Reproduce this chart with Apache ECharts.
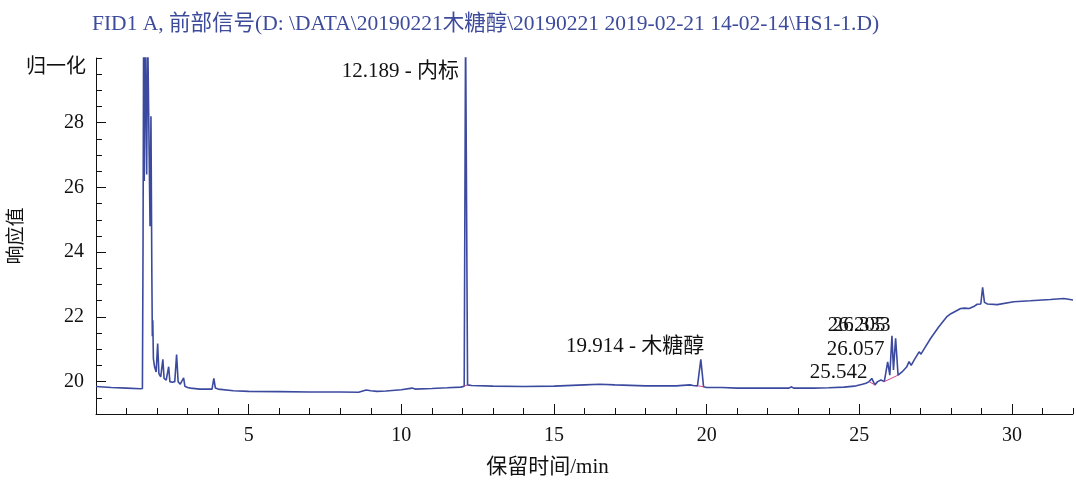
<!DOCTYPE html>
<html><head><meta charset="utf-8">
<script src="https://cdn.jsdelivr.net/npm/echarts@6/dist/echarts.min.js"></script>
<style>html,body{margin:0;padding:0;background:#fff}#c{width:1076px;height:484px}</style>
</head><body><div id="c"></div>
<script>
const titleText = 'FID1 A, 前部信号(D: \\DATA\\20190221木糖醇\\20190221 2019-02-21 14-02-14\\HS1-1.D)';
const xName = '保留时间/min';
const yName = '响应值';
const yUnit = '归一化';
const xTickLabels = [5, 10, 15, 20, 25, 30];
const yTickLabels = [20, 22, 24, 26, 28];

// retention time (min) and normalised response
const times = [
  0, 0.5, 1.0, 1.45, 1.52, 1.54, 1.56, 1.58, 1.61, 1.64, 1.66, 1.69, 1.72, 1.745, 1.77, 1.80, 1.83, 1.845, 1.86, 1.88,
  1.92, 1.97, 2.02, 2.06, 2.12, 2.19, 2.23, 2.30, 2.38, 2.42, 2.50, 2.58, 2.64, 2.69, 2.76, 2.82, 2.87, 2.91, 3.0, 3.1,
  3.4, 3.8, 3.86, 3.91, 3.96, 4.0, 4.5, 5.0, 6.0, 7.0, 8.0, 8.6, 8.85, 9.0, 9.2, 9.5, 10.0, 10.35, 10.45, 11.0,
  11.5, 11.95, 12.06, 12.105, 12.125, 12.17, 12.3, 13.0, 14.0, 15.0, 16.0, 16.5, 17.0, 18.0, 19.0, 19.45, 19.5, 19.56, 19.7, 19.81,
  19.9, 20.0, 20.5, 21.0, 22.0, 22.7, 22.77, 22.85, 23.5, 24.0, 24.5, 24.84, 25.1, 25.22, 25.32, 25.41, 25.51, 25.6, 25.71, 25.82,
  25.93, 26.0, 26.07, 26.12, 26.19, 26.27, 26.4, 26.55, 26.63, 26.7, 26.8, 26.96, 27.02, 27.15, 27.34, 27.6, 27.86, 28.0, 28.2, 28.32,
  28.45, 28.6, 28.75, 28.86, 28.98, 29.04, 29.1, 29.2, 29.52, 30.06, 30.6, 31.26, 31.7, 32.0
];
const signal = [
  19.85, 19.82, 19.80, 19.78, 19.79, 24.0, 31, 26.2, 31, 31, 26.4, 31, 31, 31, 24.8, 28.2, 23.2, 21.4, 21.9, 20.7,
  20.45, 20.3, 21.18, 20.25, 20.15, 20.69, 20.1, 20.05, 20.46, 20.0, 19.98, 20.0, 20.84, 20.0, 19.92, 19.9, 20.12, 19.86, 19.82, 19.80,
  19.77, 19.77, 20.1, 19.8, 19.86, 19.77, 19.72, 19.70, 19.69, 19.68, 19.68, 19.67, 19.74, 19.72, 19.70, 19.71, 19.75, 19.80, 19.77, 19.79,
  19.81, 19.83, 19.86, 31, 31, 19.9, 19.88, 19.86, 19.85, 19.86, 19.90, 19.92, 19.90, 19.87, 19.87, 19.90, 19.95, 19.88, 19.87, 20.69,
  19.84, 19.82, 19.82, 19.80, 19.80, 19.80, 19.84, 19.80, 19.80, 19.81, 19.83, 19.86, 19.92, 19.95, 20.0, 20.1, 19.9, 20.0, 20.05, 20.0,
  20.61, 20.2, 21.42, 20.36, 21.34, 20.2, 20.3, 20.45, 20.62, 20.5, 20.67, 20.92, 20.85, 21.05, 21.34, 21.69, 22.0, 22.1, 22.2, 22.26,
  22.27, 22.26, 22.32, 22.39, 22.4, 22.91, 22.45, 22.4, 22.38, 22.47, 22.5, 22.54, 22.57, 22.52
];

// integration baselines (start/end time and response)
const baseStartT = [12.06, 19.72, 25.32, 25.82];
const baseStartV = [19.86, 19.87, 20.0, 20.0];
const baseEndT = [12.17, 19.90, 25.51, 26.27];
const baseEndV = [19.90, 19.84, 19.9, 20.2];

// peak annotations: text, anchor time, anchor response
const peakLabels = ['12.189 - 内标', '19.914 - 木糖醇', '25.542', '26.057', '26.205', '26.333'];
const peakLabelTimes = [11.89, 19.92, 25.27, 25.83, 25.86, 26.02];
const peakLabelValues = [29.57, 21.1, 20.27, 21.0, 21.75, 21.72];

const serif = "'Liberation Serif', 'Noto Sans CJK SC', serif";
const ink = '#111111';
const trace = '#3b4a9e';

const baseData = [];
baseStartT.forEach((t, i) => {
  baseData.push([t, baseStartV[i]], [baseEndT[i], baseEndV[i]], [null, null]);
});

const chart = echarts.init(document.getElementById('c'), null, {renderer: 'canvas'});
chart.setOption({
  animation: false,
  backgroundColor: '#fff',
  title: {
    text: titleText, left: 87, top: 9,
    textStyle: {fontFamily: serif, fontSize: 21.5, fontWeight: 'normal', color: '#3d4b9b'}
  },
  grid: {left: 96, right: 0, top: 58, bottom: 70, containLabel: false},
  xAxis: [{
    type: 'value', min: 0, max: 32, interval: 1, position: 'bottom',
    axisLine: {show: true, lineStyle: {color: ink, width: 1}},
    axisTick: {show: true, inside: true, length: 6, lineStyle: {color: ink}},
    axisLabel: {
      show: true, margin: 12, fontFamily: serif, fontSize: 20, color: ink,
      formatter: v => xTickLabels.includes(v) ? String(v) : ''
    },
    splitLine: {show: false},
    name: xName, nameLocation: 'middle', nameGap: 43,
    nameTextStyle: {fontFamily: serif, fontSize: 21, color: ink, padding: [0, 74, 0, 0]}
  }, {
    type: 'value', min: 0, max: 32, interval: 1, position: 'bottom',
    axisLine: {show: false},
    axisTick: {show: true, inside: true, length: 10, customValues: xTickLabels, lineStyle: {color: ink}},
    axisLabel: {show: false},
    splitLine: {show: false}
  }],
  yAxis: [{
    type: 'value', min: 19, max: 30, interval: 0.5, position: 'left',
    axisLine: {show: true, lineStyle: {color: ink, width: 1}},
    axisTick: {show: true, inside: true, length: 6, lineStyle: {color: ink}},
    axisLabel: {
      show: true, margin: 12, fontFamily: serif, fontSize: 20, color: ink,
      formatter: v => yTickLabels.includes(v) ? String(v) : ''
    },
    splitLine: {show: false},
    name: yUnit, nameLocation: 'end', nameGap: -10,
    nameTextStyle: {fontFamily: serif, fontSize: 20, color: ink, align: 'right', verticalAlign: 'middle', padding: [0, 10, 0, 0]}
  }, {
    type: 'value', min: 19, max: 30, interval: 0.5, position: 'left',
    axisLine: {show: false},
    axisTick: {show: true, inside: true, length: 10, customValues: yTickLabels, lineStyle: {color: ink}},
    axisLabel: {show: false},
    splitLine: {show: false},
    name: yName, nameLocation: 'middle', nameGap: 69,
    nameTextStyle: {fontFamily: serif, fontSize: 19, color: ink}
  }],
  series: [{
    type: 'line', xAxisIndex: 0, yAxisIndex: 0,
    data: times.map((t, i) => [t, signal[i]]),
    showSymbol: false, symbol: 'none', clip: true,
    lineStyle: {color: trace, width: 1.6},
    z: 3
  }, {
    type: 'line', xAxisIndex: 0, yAxisIndex: 0,
    data: baseData, connectNulls: false,
    showSymbol: false, symbol: 'none', silent: true,
    lineStyle: {color: '#d0458a', width: 1},
    z: 4
  }, {
    type: 'scatter', xAxisIndex: 0, yAxisIndex: 0,
    data: peakLabels.map((s, i) => ({name: s, value: [peakLabelTimes[i], peakLabelValues[i]]})),
    symbolSize: 0, silent: true,
    itemStyle: {opacity: 1},
    label: {
      show: true, position: 'left', distance: 0, formatter: p => p.name,
      fontFamily: serif, fontSize: 21, color: ink, textBorderWidth: 0, opacity: 1
    },
    z: 5
  }]
});
</script>
</body></html>
